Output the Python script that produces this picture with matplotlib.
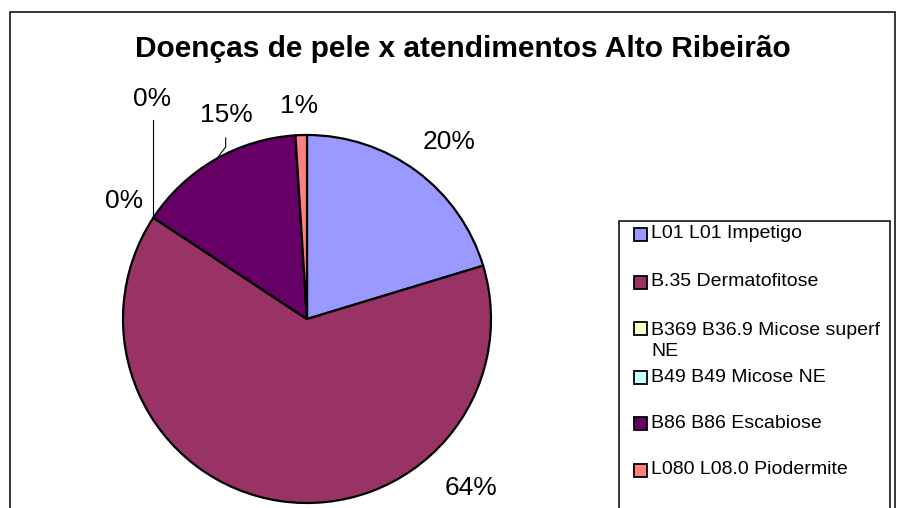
import matplotlib.pyplot as plt
from matplotlib.patches import Rectangle

plt.rcParams['font.family'] = ['Liberation Sans', 'DejaVu Sans']

# data (percent of visits)
categories = ['L01 L01 Impetigo', 'B.35 Dermatofitose', 'B369 B36.9 Micose superf\nNE',
              'B49 B49 Micose NE', 'B86 B86 Escabiose', 'L080 L08.0 Piodermite']
values = [20.3, 63.9, 0.0, 0.0, 14.7, 1.0]
pct_labels = ['20%', '64%', '0%', '0%', '15%', '1%']
colors = ['#9999FF', '#993366', '#FFFFCC', '#CCFFFF', '#660066', '#FF8080']
title = 'Doenças de pele x atendimentos Alto Ribeirão'

W, H = 897, 508
fig = plt.figure(figsize=(W / 100, H / 100), dpi=100)
ax = fig.add_axes([0, 0, 1, 1])


def py(y):
    # pixel row (from top) -> data y
    return H - y


ax.pie(values, colors=colors, startangle=90, counterclock=False,
       center=(307, py(319)), radius=184, frame=True,
       wedgeprops=dict(edgecolor='black', linewidth=1.6))
ax.set_xlim(0, W)
ax.set_ylim(0, H)
ax.axis('off')

# outer chart frame and legend frame
ax.add_patch(Rectangle((10, py(520)), 885, 508, fill=False, lw=1.1, ec='black'))
ax.add_patch(Rectangle((619, py(520)), 271, 299, fill=False, lw=1.1, ec='black'))

# percent labels (positions as placed by the original chart)
label_pos = [(449, 142), (471, 488), (124, 201), (152, 99), (226, 115), (299, 106)]
for (x, y), txt in zip(label_pos, pct_labels):
    ax.text(x, py(y), txt, fontsize=19, ha='center', va='center')

# leader lines
ax.plot([152.7, 152.7], [py(120), py(217)], color='black', lw=0.8)
ax.plot([225.7, 225.7, 218], [py(138), py(147), py(157)], color='black', lw=0.8)

ax.text(463, py(49), title, fontsize=21.5, fontweight='bold', ha='center', va='center')

# legend
leg_y = [234, 282, 328, 377, 423, 470]
for y, name, c in zip(leg_y, categories, colors):
    ax.add_patch(Rectangle((634, py(y + 6.5)), 13, 13, fc=c, ec='black', lw=1.3))
    if '\n' in name:
        ax.text(651, py(y - 6), name, fontsize=14, ha='left', va='top', linespacing=1.3)
    else:
        ax.text(651, py(y), name, fontsize=14, ha='left', va='center')

fig.savefig('out.png', dpi=100)
